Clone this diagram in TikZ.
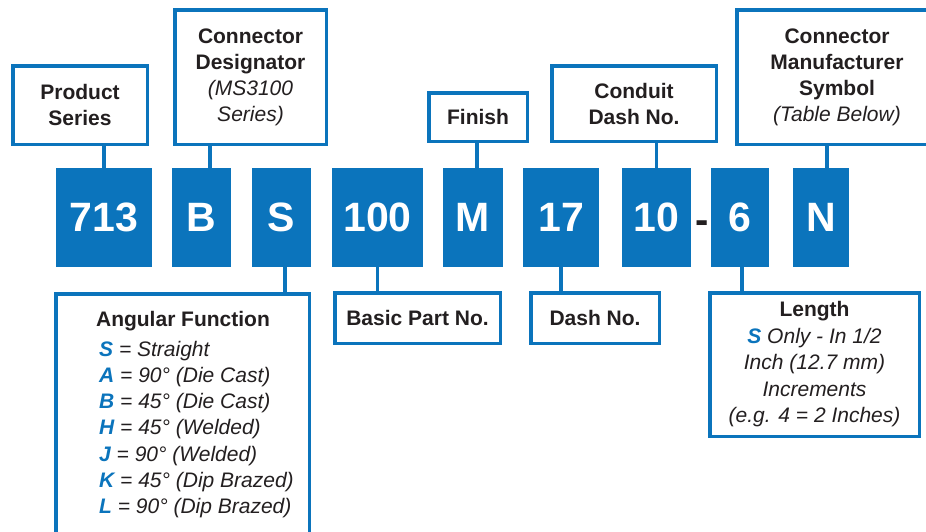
\documentclass[tikz,border=0pt]{standalone}
\usepackage{fontspec}
\setmainfont{Liberation Sans}
\usepackage{xcolor}
\usepackage{tikz}

\definecolor{ablue}{HTML}{0B74BC}
\definecolor{adark}{HTML}{231F20}

\begin{document}
\begin{tikzpicture}[x=1pt,y=-1pt,
  lbl/.style={draw=ablue,line width=3.5pt,fill=white,text=adark,inner sep=0pt,
    align=center,font=\bfseries\fontsize{21}{26}\selectfont},
  code/.style={fill=ablue,text=white,inner sep=0pt,minimum height=99pt,
    font=\bfseries\fontsize{41}{48}\selectfont},
  conn/.style={draw=ablue,line width=3.5pt},
  item/.style={anchor=base west,inner sep=0pt,text=adark,
    font=\itshape\fontsize{21}{26}\selectfont}]
\clip (0,0) rectangle (926,531);
%% labels above
\node[lbl,minimum width=134.5pt,minimum height=78.5pt] (prod) at (80,105) {Product\\Series};
\node[lbl,minimum width=151.5pt,minimum height=134.5pt] (desig) at (250.5,77)
  {Connector\\Designator\\\textit{\mdseries(MS3100}\\\textit{\mdseries Series)}};
\node[lbl,minimum width=98.5pt,minimum height=48.5pt] (fin) at (478,117) {Finish};
\node[lbl,minimum width=164.5pt,minimum height=75.5pt] (cond) at (634,103.5) {Conduit\\Dash No.};
\node[lbl,minimum width=200.5pt,minimum height=134.5pt] (mfr) at (837,77)
  {Connector\\Manufacturer\\Symbol\\\textit{\mdseries(Table Below)}};
%% part number
\node[code,minimum width=96pt] (c713) at (104,217.5) {713};
\node[code,minimum width=59pt] (cB) at (201.5,217.5) {B};
\node[code,minimum width=59pt] (cS) at (281.5,217.5) {S};
\node[code,minimum width=91pt] (c100) at (377.5,217.5) {100};
\node[code,minimum width=60pt] (cM) at (473,217.5) {M};
\node[code,minimum width=76pt] (c17) at (561,217.5) {17};
\node[code,minimum width=69pt] (c10) at (656.5,217.5) {10};
\node[anchor=base,inner sep=0pt,text=adark,font=\bfseries\fontsize{40}{48}\selectfont] (hyph) at (702,233) {-};
\node[code,minimum width=58pt] (c6) at (740,217.5) {6};
\node[code,minimum width=56pt] (cN) at (821,217.5) {N};
%% labels below
\node[lbl,minimum width=253.5pt,minimum height=280pt] (ang) at (182.5,433.75) {};
\node[anchor=base,inner sep=0pt,text=adark,font=\bfseries\fontsize{21}{26}\selectfont] (angtitle) at (183,326) {Angular Function};
\foreach \k/\t [count=\i from 0] in {S/= Straight,A/= 90° (Die Cast),B/= 45° (Die Cast),
    H/= 45° (Welded),J/= 90° (Welded),K/= 45° (Dip Brazed),L/= 90° (Dip Brazed)}
  \node[item] (ang\i) at (99,356+26.3*\i) {\textcolor{ablue}{\bfseries\k} \t};
\node[lbl,minimum width=165.5pt,minimum height=50.5pt] (basic) at (417.5,318) {Basic Part No.};
\node[lbl,minimum width=128.5pt,minimum height=50.5pt] (dashno) at (595,318) {Dash No.};
\node[lbl,minimum width=209.5pt,minimum height=143.5pt,font=\itshape\fontsize{21}{26.5}\selectfont] (len) at (814.5,364.5)
  {\textup{\bfseries Length}\\\textcolor{ablue}{\bfseries S} Only - In 1/2\\Inch (12.7 mm)\\Increments\\(e.g. 4 = 2 Inches)};
%% connectors
\draw[conn] (c713.north) -- (c713.north |- prod.south);
\draw[conn] ([xshift=8.5pt]cB.north) -- ([xshift=8.5pt]cB.north |- desig.south);
\draw[conn] ([xshift=4pt]cM.north) -- ([xshift=4pt]cM.north |- fin.south);
\draw[conn] (c10.north) -- (c10.north |- cond.south);
\draw[conn] ([xshift=6pt]cN.north) -- ([xshift=6pt]cN.north |- mfr.south);
\draw[conn] ([xshift=3.5pt]cS.south) -- ([xshift=3.5pt]cS.south |- ang.north);
\draw[conn] (c100.south) -- (c100.south |- basic.north);
\draw[conn] (c17.south) -- (c17.south |- dashno.north);
\draw[conn] ([xshift=2pt]c6.south) -- ([xshift=2pt]c6.south |- len.north);
\end{tikzpicture}
\end{document}
